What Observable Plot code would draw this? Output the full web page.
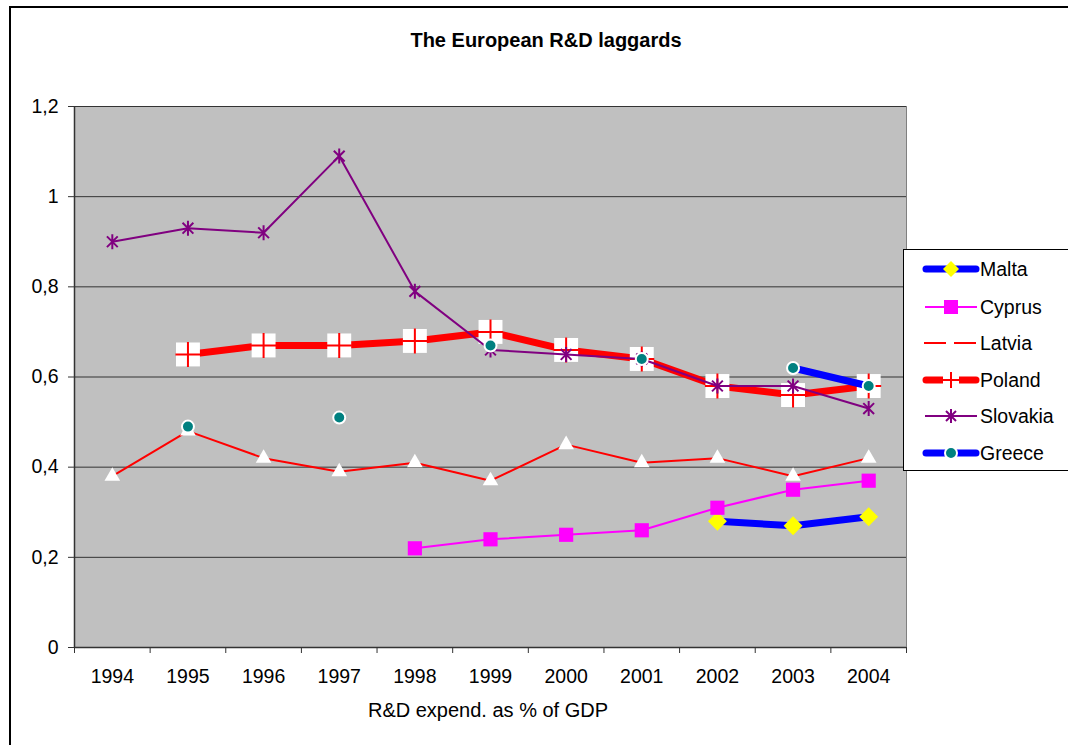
<!DOCTYPE html>
<html><head><meta charset="utf-8">
<script src="https://cdn.jsdelivr.net/npm/d3@7"></script>
<script src="https://cdn.jsdelivr.net/npm/@observablehq/plot@0.6"></script>
<style>
body{margin:0;background:#fff;font-family:"Liberation Sans",Arial,sans-serif;}
#wrap{position:relative;width:1068px;height:745px;overflow:hidden;}
#chart{position:absolute;left:0;top:0;}
#border{position:absolute;left:9px;top:6px;width:1100px;height:800px;border-left:2px solid #000;border-top:2px solid #000;}
#title{position:absolute;left:0;width:1092px;top:29px;text-align:center;font-weight:bold;font-size:20px;line-height:22px;}
#xlabel{position:absolute;left:0;width:976px;top:699px;text-align:center;font-size:20px;line-height:22px;}
#legend{position:absolute;left:903px;top:249px;width:200px;height:220px;border:1px solid #000;background:#fff;}
.item{position:absolute;left:18px;height:24px;display:flex;align-items:center;font-size:19.5px;}
</style></head><body>
<div id="wrap">
<div id="border"></div>
<div id="chart"></div>
<div id="title">The European R&amp;D laggards</div>
<div id="xlabel">R&amp;D expend. as % of GDP</div>
<div id="legend"></div>
</div>
<script>
const years = [1994, 1995, 1996, 1997, 1998, 1999, 2000, 2001, 2002, 2003, 2004];
const yTicks = [0, 0.2, 0.4, 0.6, 0.8, 1, 1.2];
const malta    = [null, null, null, null, null, null, null, null, 0.28, 0.27, 0.29];
const cyprus   = [null, null, null, null, 0.22, 0.24, 0.25, 0.26, 0.31, 0.35, 0.37];
const latvia   = [0.38, 0.48, 0.42, 0.39, 0.41, 0.37, 0.45, 0.41, 0.42, 0.38, 0.42];
const poland   = [null, 0.65, 0.67, 0.67, 0.68, 0.70, 0.66, 0.64, 0.58, 0.56, 0.58];
const slovakia = [0.90, 0.93, 0.92, 1.09, 0.79, 0.66, 0.65, 0.64, 0.58, 0.58, 0.53];
const greece   = [null, 0.49, null, 0.51, null, 0.67, null, 0.64, null, 0.62, 0.58];
const seriesNames = ["Malta", "Cyprus", "Latvia", "Poland", "Slovakia", "Greece"];

const rows = arr => years.map((yr, i) => ({year: yr, value: arr[i] == null ? NaN : arr[i]}));
const pts = arr => rows(arr).filter(d => !isNaN(d.value));

const starSym = {draw(ctx, size) {
  const r = Math.sqrt(size / Math.PI), d = r * 0.72;
  ctx.moveTo(0, -r); ctx.lineTo(0, r);
  ctx.moveTo(-d, -d); ctx.lineTo(d, d);
  ctx.moveTo(-d, d); ctx.lineTo(d, -d);
}};
const plusSym = {draw(ctx, size) {
  const r = Math.sqrt(size / Math.PI);
  ctx.moveTo(0, -r); ctx.lineTo(0, r);
  ctx.moveTo(-r, 0); ctx.lineTo(r, 0);
}};

const halfYears = years.concat([years[years.length - 1] + 1]).map(y => y - 0.5);
const x0 = years[0] - 0.5, x1 = years[years.length - 1] + 0.5;

const chart = Plot.plot({
  width: 1068, height: 745,
  marginLeft: 74, marginRight: 162, marginTop: 106, marginBottom: 98,
  style: {background: "transparent", fontFamily: "'Liberation Sans', Arial, sans-serif", fontSize: "19.5px", color: "#000"},
  x: {type: "linear", domain: [x0, x1]},
  y: {domain: [0, 1.2]},
  marks: [
    Plot.frame({fill: "#c0c0c0", stroke: "#808080"}),
    Plot.gridY(yTicks, {stroke: "#333", strokeOpacity: 1, strokeWidth: 1}),
    Plot.ruleX([x0], {stroke: "#333", strokeWidth: 1.5}),
    Plot.ruleY([0], {stroke: "#333", strokeWidth: 1.5}),
    Plot.axisY(yTicks, {tickSize: 6, tickPadding: 10, tickFormat: d => String(d).replace(".", ","), label: null, stroke: "#333"}),
    Plot.axisX(halfYears, {tickSize: 6, tickFormat: () => "", label: null, stroke: "#333"}),
    Plot.axisX(years, {tickSize: 0, tickPadding: 22, tickFormat: d => String(d), label: null}),
    // Malta
    Plot.line(rows(malta), {x: "year", y: "value", stroke: "#0000ff", strokeWidth: 7}),
    Plot.dot(pts(malta), {x: "year", y: "value", symbol: "diamond2", r: 8.5, fill: "#ffff00"}),
    // Cyprus
    Plot.line(rows(cyprus), {x: "year", y: "value", stroke: "#ff00ff", strokeWidth: 2}),
    Plot.dot(pts(cyprus), {x: "year", y: "value", symbol: "square", r: 8, fill: "#ff00ff"}),
    // Latvia
    Plot.line(rows(latvia), {x: "year", y: "value", stroke: "#ff0000", strokeWidth: 2}),
    Plot.dot(pts(latvia), {x: "year", y: "value", symbol: "triangle", r: 5.8, fill: "#ffffff"}),
    // Poland
    Plot.line(rows(poland), {x: "year", y: "value", stroke: "#ff0000", strokeWidth: 7}),
    Plot.dot(pts(poland), {x: "year", y: "value", symbol: "square", r: 13.5, fill: "#ffffff"}),
    Plot.dot(pts(poland), {x: "year", y: "value", symbol: plusSym, r: 12.5, stroke: "#ff0000", strokeWidth: 2, fill: "none"}),
    // Slovakia
    Plot.line(rows(slovakia), {x: "year", y: "value", stroke: "#800080", strokeWidth: 2}),
    Plot.dot(pts(slovakia), {x: "year", y: "value", symbol: starSym, r: 7.5, stroke: "#800080", strokeWidth: 2, fill: "none"}),
    // Greece
    Plot.line(rows(greece), {x: "year", y: "value", stroke: "#0000ff", strokeWidth: 7}),
    Plot.dot(pts(greece), {x: "year", y: "value", r: 6, fill: "#008080", stroke: "#ffffff", strokeWidth: 2})
  ]
});
document.getElementById("chart").appendChild(chart);

// Legend
const samples = {
  Malta: `<line x1="4" y1="12" x2="54" y2="12" stroke="#0000ff" stroke-width="7" stroke-linecap="round"/><path d="M29,4L37,12L29,20L21,12Z" fill="#ffff00"/>`,
  Cyprus: `<line x1="3" y1="12" x2="55" y2="12" stroke="#ff00ff" stroke-width="2"/><rect x="22" y="5" width="14" height="14" fill="#ff00ff"/>`,
  Latvia: `<line x1="2" y1="12" x2="24" y2="12" stroke="#ff0000" stroke-width="2"/><line x1="32" y1="12" x2="54" y2="12" stroke="#ff0000" stroke-width="2"/>`,
  Poland: `<line x1="4" y1="12" x2="54" y2="12" stroke="#ff0000" stroke-width="7" stroke-linecap="round"/><rect x="21" y="4" width="16" height="16" fill="#fff"/><path d="M29,4V20M21,12H37" stroke="#ff0000" stroke-width="2"/>`,
  Slovakia: `<line x1="3" y1="12" x2="55" y2="12" stroke="#800080" stroke-width="2"/><path d="M29,5V19M24,7L34,17M24,17L34,7" stroke="#800080" stroke-width="2"/>`,
  Greece: `<line x1="4" y1="12" x2="54" y2="12" stroke="#0000ff" stroke-width="7" stroke-linecap="round"/><circle cx="29" cy="12" r="6" fill="#008080" stroke="#fff" stroke-width="2"/>`
};
const legendTops = [7, 45, 81, 118, 154, 191];
const legend = document.getElementById("legend");
seriesNames.forEach((name, i) => {
  const div = document.createElement("div");
  div.className = "item";
  div.style.top = legendTops[i] + "px";
  div.innerHTML = `<svg width="58" height="24">${samples[name]}</svg><span>${name}</span>`;
  legend.appendChild(div);
});
</script>
</body></html>
